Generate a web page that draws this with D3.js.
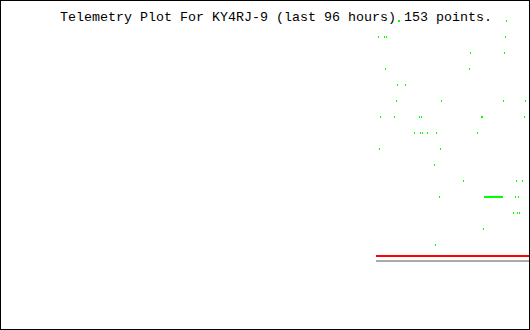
<!DOCTYPE html>
<html>
<head>
<meta charset="utf-8">
<script src="https://cdn.jsdelivr.net/npm/d3@7"></script>
<style>
  body { margin: 0; background: white; }
</style>
</head>
<body>
<div id="chart"></div>
<script>
var width = 530
var height = 330

// Data: hours relative to now, telemetry level

var title = "Telemetry Plot For KY4RJ-9 (last 96 hours) 153 points."

var hours = [-27.53, -27.35, -27.17, -26.45, -26.26, -26.08, -24.63, -24.27, -24.09, -23.91,
    -23.73, -22.64, -21.01, -20.11, -19.92, -19.74, -19.56, -18.66, -17.39, -17.21,
    -17.03, -16.48, -16.30, -16.12, -12.14, -11.05, -10.87, -9.60, -8.88, -8.69,
    -8.51, -8.33, -8.15, -7.97, -7.79, -7.61, -7.43, -7.25, -7.06, -6.88,
    -6.70, -6.52, -6.34, -6.16, -5.98, -5.80, -5.62, -5.43, -5.25, -5.07,
    -4.89, -4.71, -4.53, -4.35, -3.08, -2.72, -2.54, -2.36, -2.17, -1.99,
    -1.45, -1.09, -0.91]

var levels = [14, 7, 9, 14, 12, 14, 9, 10, 11, 15,
    15, 11, 8, 9, 8, 9, 8, 8, 6, 1,
    8, 4, 7, 10, 5, 12, 13, 8, 9, 9,
    2, 4, 4, 4, 4, 4, 4, 4, 4, 4,
    4, 4, 4, 4, 4, 4, 4, 4, 4, 4,
    10, 13, 14, 15, 3, 4, 5, 3, 4, 3,
    5, 9, 10]

var limitHours = [-27.89, 0]
var redLevel = [0.3125, 0.3125]
var greyLevel = [0, 0]

// Scales

var x_scale = d3.scaleLinear()
    .domain([-96, 0])
    .range([0, width]);

var y_scale = d3.scaleLinear()
    .domain([0, 16])
    .range([261, 5]);

var svg = d3.select("#chart")
    .append('svg')
    .attr('width', width)
    .attr('height', height)
    .style("background-color", "white")
    .style("display", "block")

// Reference lines

var line = d3.line()
    .x(function(d) { return x_scale(d[0]); })
    .y(function(d) { return y_scale(d[1]); });

svg.append("path")
    .datum(d3.zip(limitHours, greyLevel))
    .attr("d", line)
    .attr("fill", "none")
    .attr("stroke", "#aaaaaa")
    .attr("stroke-width", 2)
    .attr("shape-rendering", "crispEdges")

svg.append("path")
    .datum(d3.zip(limitHours, redLevel))
    .attr("d", line)
    .attr("fill", "none")
    .attr("stroke", "#ff0000")
    .attr("stroke-width", 2)
    .attr("shape-rendering", "crispEdges")

// Points

svg.append("g")
    .selectAll("rect")
    .data(hours)
    .enter()
    .append("rect")
    .attr("x", function(d) { return Math.round(x_scale(d)); })
    .attr("y", function(d, i) { return Math.round(y_scale(levels[i])) - 1; })
    .attr("width", 1)
    .attr("height", 2)
    .attr("fill", "#00ff00")
    .attr("shape-rendering", "crispEdges")

// Title

svg.append("text")
    .attr("x", 60)
    .attr("y", 21)
    .attr("font-family", "'Liberation Mono', 'DejaVu Sans Mono', monospace")
    .attr("font-size", "13.33px")
    .attr("fill", "black")
    .attr("xml:space", "preserve")
    .text(title)

// Frame

svg.append("rect")
    .attr("x", 0.5)
    .attr("y", 0.5)
    .attr("width", width - 1)
    .attr("height", height - 1)
    .attr("fill", "none")
    .attr("stroke", "black")
    .attr("stroke-width", 1)
    .attr("shape-rendering", "crispEdges")
</script>
</body>
</html>
